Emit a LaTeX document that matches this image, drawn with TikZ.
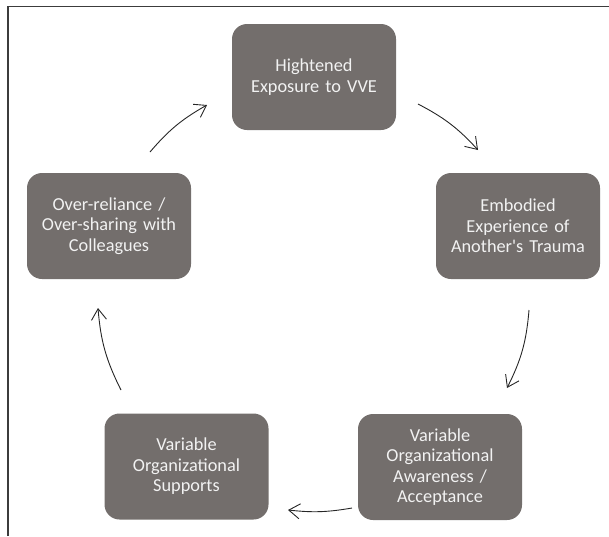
\documentclass[tikz,border=0pt]{standalone}
\usepackage{fontspec}
\setmainfont{Carlito}[Ligatures=TeXOff]
\usetikzlibrary{arrows.meta}
\definecolor{boxgray}{RGB}{115,110,108}
\definecolor{boxtext}{RGB}{242,242,242}
\definecolor{framec}{RGB}{60,60,60}
\begin{document}
\begin{tikzpicture}[x=1pt,y=-1pt,
  stage/.style={draw=none, fill=boxgray, rounded corners=15pt,
    minimum width=164pt, minimum height=106pt, inner sep=0pt,
    text width=150pt, align=center, text=boxtext,
    font=\fontsize{18.3}{20.5}\selectfont},
  flow/.style={-{Straight Barb[length=11pt,width=15pt]}, line width=0.9pt, draw=black!85}]
\useasboundingbox (0,0) rectangle (609,536);
\draw[framec, line width=1.4pt] (8,536) -- (8,6.5) -- (609,6.5);

\node[stage] (top) at (314,77) {Hightened\\Exposure to VVE};
\node[stage] (right) at (518,226) {Embodied\\Experience of\\Another's Trauma};
\node[stage] (br) at (440,467) {Variable\\Organizational\\Awareness /\\Acceptance};
\node[stage] (bl) at (186.5,466.5) {Variable\\Organizational\\Supports};
\node[stage] (left) at (109,226) {Over-reliance /\\Over-sharing with\\Colleagues};

\coordinate (a1) at (418,104);
\coordinate (b1) at (478,150);
\coordinate (a2) at (529,310);
\coordinate (b2) at (507,388);
\coordinate (a3) at (352,508);
\coordinate (b3) at (288,510);
\coordinate (a4) at (121,390);
\coordinate (b4) at (98,308);
\coordinate (a5) at (150,152);
\coordinate (b5) at (207,105);

\draw[flow] (a1) to[bend left=10] (b1);
\draw[flow] (a2) to[bend left=11] (b2);
\draw[flow] (a3) to[bend left=8] (b3);
\draw[flow] (a4) to[bend left=11] (b4);
\draw[flow] (a5) to[bend left=10] (b5);
\end{tikzpicture}
\end{document}
